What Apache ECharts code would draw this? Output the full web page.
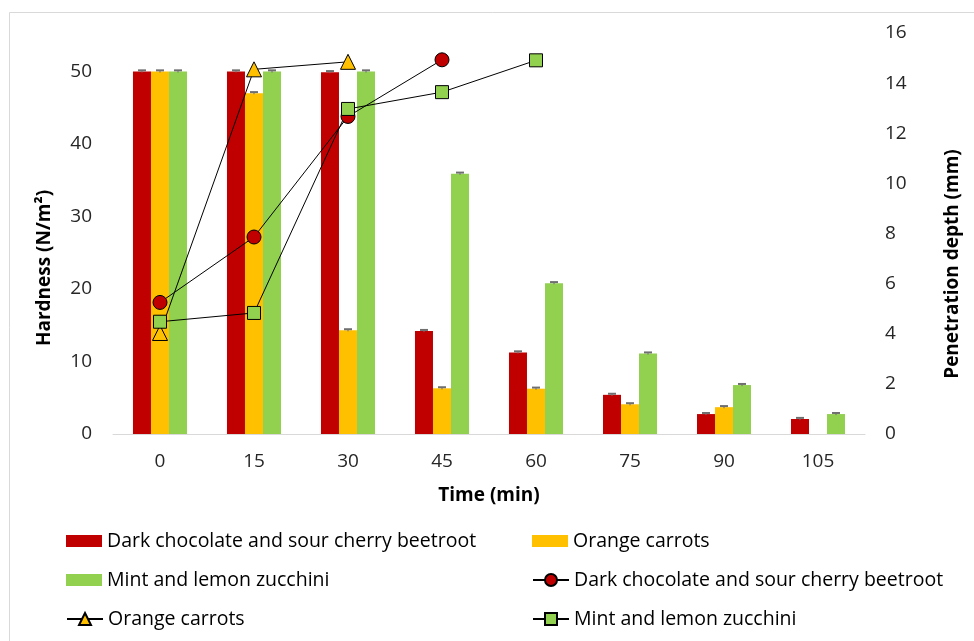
<!DOCTYPE html>
<html>
<head>
<meta charset="utf-8">
<script src="https://cdn.jsdelivr.net/npm/echarts@6/dist/echarts.min.js"></script>
<style>
  html, body { margin: 0; padding: 0; background: #fff; }
  #chart { width: 974px; height: 641px; }
</style>
</head>
<body>
<div id="chart"></div>
<script>
// Sampling times (min)
const times = ['0', '15', '30', '45', '60', '75', '90', '105'];

// Hardness (N/m²) per product
const hardBeetroot = [50, 50, 49.9, 14.2, 11.25, 5.4, 2.75, 2.07];
const hardCarrot   = [50, 47.0, 14.3, 6.3, 6.25, 4.1, 3.7, '-'];
const hardZucchini = [50, 50, 50, 35.9, 20.8, 11.1, 6.75, 2.75];

// Standard deviation of hardness
const sdBeetroot = [0.15, 0.15, 0.15, 0.15, 0.15, 0.15, 0.15, 0.15];
const sdCarrot   = [0.15, 0.15, 0.15, 0.15, 0.15, 0.15, 0.15, 0];
const sdZucchini = [0.15, 0.15, 0.15, 0.15, 0.15, 0.15, 0.15, 0.15];

// Penetration depth (mm) per product
const depthBeetroot = [5.25, 7.86, 12.67, 14.93, '-', '-', '-', '-'];
const depthCarrot   = [4.03, 14.55, 14.85, '-', '-', '-', '-', '-'];
const depthZucchini = [4.48, 4.83, 12.97, 13.64, 14.91, '-', '-', '-'];

// Axis ticks
const hardnessTicks = { min: 0, max: 55.3, interval: 10 };
const depthTicks = { min: 0, max: 16, interval: 2 };

const names = {
  beet: 'Dark chocolate and sour cherry beetroot',
  carrot: 'Orange carrots',
  zuc: 'Mint and lemon zucchini'
};
const DEPTH = ' (depth)';
const colors = { beet: '#C00000', carrot: '#FFC000', zuc: '#92D050' };

const FONT = '"Open Sans", "Noto Sans", sans-serif';
const BAR_CAT_GAP = 0.425;

function errorSeries(values, errs, slot) {
  const data = values.map((v, i) => (v === '-' ? null : [i, v, errs[i]])).filter(d => d && d[2] > 0);
  return {
    type: 'custom',
    xAxisIndex: 0,
    yAxisIndex: 0,
    z: 3,
    silent: true,
    encode: { x: 0, y: 1 },
    data: data,
    renderItem: function (params, api) {
      const idx = api.value(0), val = api.value(1), err = api.value(2);
      const band = api.size([1, 0])[0];
      const bw = band * (1 - BAR_CAT_GAP) / 3;
      const cx = api.coord([idx, val])[0] + slot * bw;
      const yTop = api.coord([idx, val + err])[1];
      const yBot = api.coord([idx, val - err])[1];
      const st = { stroke: '#6f6f6f', lineWidth: 1 };
      return {
        type: 'group',
        children: [
          { type: 'line', shape: { x1: cx, y1: yBot, x2: cx, y2: yTop }, style: st },
          { type: 'line', shape: { x1: cx - 4, y1: yTop, x2: cx + 4, y2: yTop }, style: { stroke: '#6f6f6f', lineWidth: 2 } }
        ]
      };
    }
  };
}

function barSeries(name, values, color) {
  return {
    name: name,
    type: 'bar',
    yAxisIndex: 0,
    barGap: '0%',
    barCategoryGap: (BAR_CAT_GAP * 100) + '%',
    itemStyle: { color: color },
    data: values
  };
}

function lineSeries(name, values, color, symbol, size) {
  return {
    name: name + DEPTH,
    type: 'line',
    yAxisIndex: 1,
    z: 5,
    symbol: symbol,
    symbolSize: size,
    showAllSymbol: true,
    connectNulls: false,
    lineStyle: { color: '#000', width: 1 },
    itemStyle: { color: color, borderColor: '#000', borderWidth: 1 },
    data: values
  };
}

const chart = echarts.init(document.getElementById('chart'), null, { renderer: 'canvas' });

// Legend rows are 39px apart; bar keys and line keys use separate blocks
// so the line keys can carry larger markers.
const legendBase = {
  orient: 'vertical',
  padding: 0,
  itemWidth: 36,
  itemHeight: 12,
  itemGap: 17,
  selectedMode: false,
  formatter: n => n.replace(DEPTH, ''),
  textStyle: { fontFamily: FONT, fontSize: 19.5, lineHeight: 22, color: '#000' }
};
const lineKey = { itemHeight: 15 };

chart.setOption({
  backgroundColor: '#fff',
  animation: false,
  textStyle: { fontFamily: FONT },
  graphic: [
    {
      type: 'rect', silent: true, z: -10,
      shape: { x: 9.5, y: 12.5, width: 1000, height: 700 },
      style: { fill: null, stroke: '#d9d9d9', lineWidth: 1 }
    },
    {
      type: 'text', silent: true,
      x: 45, y: 268, rotation: Math.PI / 2,
      style: {
        text: 'Hardness (N/m²)', fontFamily: FONT, fontSize: 19, fontWeight: 'bold',
        fill: '#000', align: 'center', verticalAlign: 'middle'
      }
    },
    {
      type: 'text', silent: true,
      x: 953, y: 264, rotation: Math.PI / 2,
      style: {
        text: 'Penetration depth (mm)', fontFamily: FONT, fontSize: 19, fontWeight: 'bold',
        fill: '#000', align: 'center', verticalAlign: 'middle'
      }
    }
  ],
  legend: [
    Object.assign({}, legendBase, {
      left: 66, top: 530,
      data: [
        { name: names.beet, icon: 'rect' },
        { name: names.zuc, icon: 'rect' }
      ]
    }),
    Object.assign({}, legendBase, lineKey, {
      left: 66, top: 608,
      data: [{ name: names.carrot + DEPTH }]
    }),
    Object.assign({}, legendBase, {
      left: 532, top: 530,
      data: [{ name: names.carrot, icon: 'rect' }]
    }),
    Object.assign({}, legendBase, lineKey, {
      left: 532, top: 569,
      data: [
        { name: names.beet + DEPTH },
        { name: names.zuc + DEPTH }
      ]
    })
  ],
  grid: { left: 113, right: 109, top: 33, bottom: 207, containLabel: false },
  xAxis: {
    type: 'category',
    data: times,
    name: 'Time (min)',
    nameLocation: 'middle',
    nameGap: 52,
    nameTextStyle: { fontFamily: FONT, fontSize: 19, fontWeight: 'bold', color: '#000' },
    axisLine: { lineStyle: { color: '#d9d9d9', width: 1 } },
    axisTick: { show: false },
    axisLabel: { fontFamily: FONT, fontSize: 19, color: '#262626', margin: 18 }
  },
  yAxis: [
    {
      type: 'value',
      min: hardnessTicks.min, max: hardnessTicks.max, interval: hardnessTicks.interval,
      axisLine: { show: false },
      axisTick: { show: false },
      splitLine: { show: false },
      axisLabel: {
        fontFamily: FONT, fontSize: 19, color: '#262626', margin: 21,
        showMaxLabel: false,
        formatter: v => (Math.abs(v % 10) < 1e-6 ? String(v) : '')
      }
    },
    {
      type: 'value',
      min: depthTicks.min, max: depthTicks.max, interval: depthTicks.interval,
      position: 'right',
      axisLine: { show: false },
      axisTick: { show: false },
      splitLine: { show: false },
      axisLabel: { fontFamily: FONT, fontSize: 19, color: '#262626', margin: 20 }
    }
  ],
  series: [
    barSeries(names.beet, hardBeetroot, colors.beet),
    barSeries(names.carrot, hardCarrot, colors.carrot),
    barSeries(names.zuc, hardZucchini, colors.zuc),
    errorSeries(hardBeetroot, sdBeetroot, -1),
    errorSeries(hardCarrot, sdCarrot, 0),
    errorSeries(hardZucchini, sdZucchini, 1),
    lineSeries(names.beet, depthBeetroot, colors.beet, 'circle', 14),
    lineSeries(names.carrot, depthCarrot, colors.carrot, 'triangle', 15),
    lineSeries(names.zuc, depthZucchini, colors.zuc, 'rect', 13)
  ]
});
</script>
</body>
</html>
